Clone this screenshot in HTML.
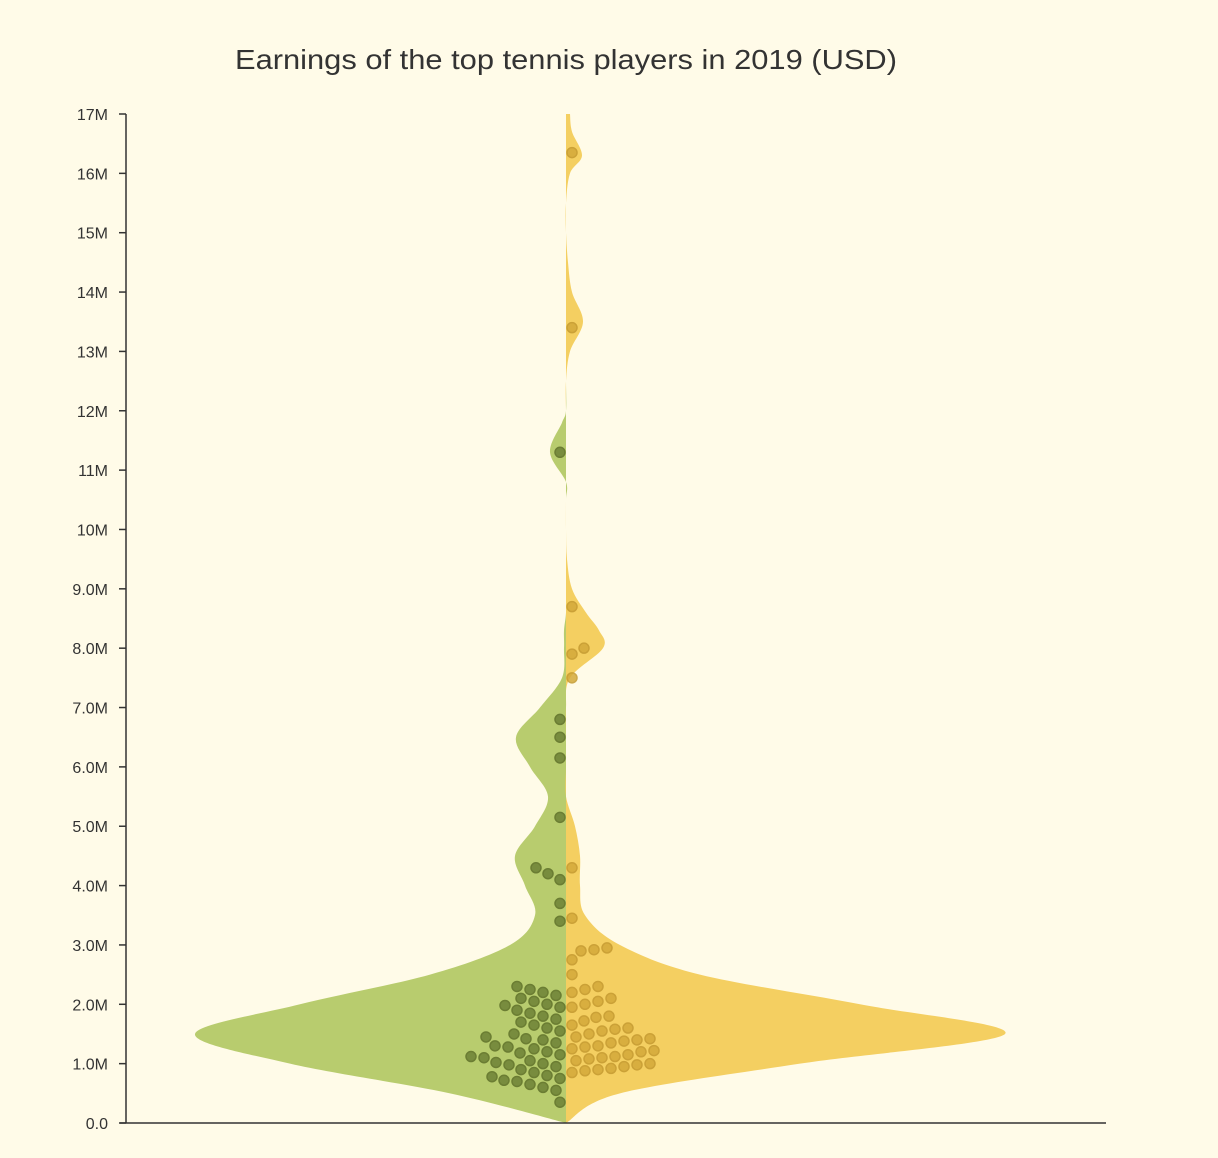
<!DOCTYPE html>
<html><head><meta charset="utf-8"><style>
html,body{margin:0;padding:0;background:#fffbe8;}
svg{display:block;font-family:"Liberation Sans",sans-serif;}
</style></head><body>
<svg id="chart" width="1218" height="1158">
<rect width="1218" height="1158" fill="#fffbe8"/>
<text x="566" y="69" text-anchor="middle" font-size="28" textLength="662" lengthAdjust="spacingAndGlyphs" fill="#333">Earnings of the top tennis players in 2019 (USD)</text>
<g id="violins"></g><g id="dots"></g><g id="axes"></g>
</svg>
<script>
const tickValues=[0,1,2,3,4,5,6,7,8,9,10,11,12,13,14,15,16,17];
const tickLabels=["0.0","1.0M","2.0M","3.0M","4.0M","5.0M","6.0M","7.0M","8.0M","9.0M","10M","11M","12M","13M","14M","15M","16M","17M"];
const densityLevels=[0,0.5,1,1.5,2,2.5,3,3.5,4,4.5,5,5.5,6,6.5,7,7.5,8,8.3,8.6,9,9.5,10,10.5,10.8,11.3,11.8,12,12.5,13,13.5,14,14.5,15,15.5,16,16.3,16.7,17];
const greenDensity=[0,116,276,371,266,136,56,31,41,51,31,18,36,50,26,4,2,2,0,0,0,0,0,0,16,4,0,0,0,0,0,0,0,0,0,0,0,0];
const yellowDensity=[0,54,234,439,294,134,54,19,14,14,9,0,0,0,0,4,37,33,20,6,1,0,0,0,0,0,0,0,4,17,6,2,0,0,4,16,6,4];
const greenValues=[11.3,6.8,6.5,6.15,5.15,4.3,4.2,4.1,3.7,3.4,2.3,2.25,2.2,2.15,2.1,2.05,2.0,1.98,1.95,1.9,1.85,1.8,1.75,1.7,1.65,1.6,1.55,1.5,1.45,1.42,1.4,1.35,1.3,1.28,1.25,1.2,1.18,1.15,1.12,1.1,1.05,1.02,1.0,0.98,0.95,0.9,0.85,0.8,0.78,0.75,0.72,0.7,0.65,0.6,0.55,0.35];
const yellowValues=[16.35,13.4,8.7,8.0,7.9,7.5,4.3,3.45,2.95,2.92,2.9,2.75,2.5,2.3,2.25,2.2,2.1,2.05,2.0,1.95,1.8,1.78,1.72,1.65,1.6,1.58,1.55,1.5,1.45,1.42,1.4,1.38,1.35,1.3,1.28,1.25,1.22,1.2,1.15,1.12,1.1,1.08,1.05,1.0,0.98,0.95,0.92,0.9,0.88,0.85];
const NS='http://www.w3.org/2000/svg';
const y0=1123,y1=114,vmax=17,cx=566,scaleW=1;
const y=v=>y0-(v/vmax)*(y0-y1);
function el(t,a,p){const e=document.createElementNS(NS,t);for(const k in a)e.setAttribute(k,a[k]);p.appendChild(e);return e;}
function spline(pts){let d='M'+pts[0][0]+','+pts[0][1];for(let i=0;i<pts.length-1;i++){const p0=pts[Math.max(0,i-1)],p1=pts[i],p2=pts[i+1],p3=pts[Math.min(pts.length-1,i+2)];const c1=[p1[0]+(p2[0]-p0[0])/6,p1[1]+(p2[1]-p0[1])/6],c2=[p2[0]-(p3[0]-p1[0])/6,p2[1]-(p3[1]-p1[1])/6];d+=`C${c1[0]},${c1[1]} ${c2[0]},${c2[1]} ${p2[0]},${p2[1]}`;}return d;}
const vg=document.getElementById('violins');
function violin(dens,dir,color,name){const pts=densityLevels.map((v,i)=>[cx+dir*dens[i]*scaleW,y(v)]);let d=spline(pts)+`L${cx},${y(vmax)}L${cx},${y0}Z`;const p=el('path',{d:d,fill:color},vg);

}
violin(greenDensity,-1,'#b8cc6e','violin-left-green');
violin(yellowDensity,1,'#f4cf61','violin-right-yellow');
const dg=document.getElementById('dots');const r=5;
function swarm(vals,dir,fill,stroke,name){const placed=[];[...vals].sort((a,b)=>a-b).forEach(v=>{const py=y(v);let off=6;while(placed.some(p=>Math.hypot(p[0]-off,p[1]-py)<2*r+2.5))off+=1;placed.push([off,py]);const c=el('circle',{cx:cx+dir*off,cy:py,r:r,fill:fill,stroke:stroke,'stroke-width':1.5,opacity:0.85},dg);

});}
swarm(greenValues,-1,'#6e8236','#5e7029','green-player-dot');
swarm(yellowValues,1,'#d4a93a','#c49a30','yellow-player-dot');
const ag=document.getElementById('axes');
const ya=el('line',{x1:126,x2:126,y1:y1,y2:y0,stroke:'#333','stroke-width':1.5},ag);


const xa=el('line',{x1:120,x2:1106,y1:y0,y2:y0,stroke:'#333','stroke-width':1.5},ag);


tickValues.forEach((v,i)=>{el('line',{x1:119,x2:126,y1:y(v),y2:y(v),stroke:'#333','stroke-width':1.5},ag);const t=el('text',{x:108,y:y(v)+6,'text-anchor':'end','font-size':16,fill:'#333'},ag);t.textContent=tickLabels[i];

});
</script>
</body></html>
